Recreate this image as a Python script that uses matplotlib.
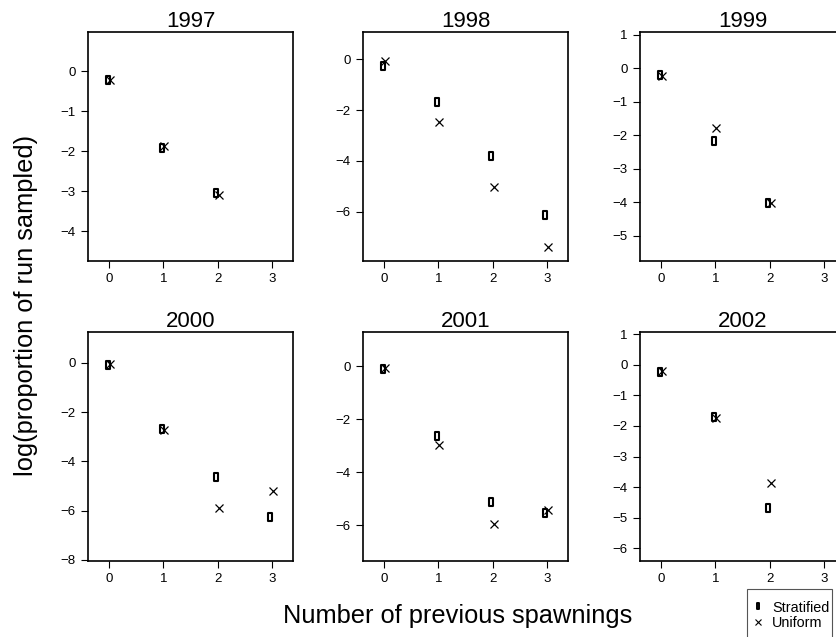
import matplotlib
matplotlib.use("Agg")
import matplotlib.pyplot as plt
from matplotlib.path import Path
from matplotlib.lines import Line2D
from matplotlib.patches import Rectangle
import numpy as np

plt.rcParams['font.family'] = ['Liberation Sans', 'DejaVu Sans']

years = ["1997", "1998", "1999", "2000", "2001", "2002"]
spawnings = [0, 1, 2, 3]

stratified = {
    "1997": [-0.23, -1.92, -3.06, None],
    "1998": [-0.26, -1.68, -3.81, -6.13],
    "1999": [-0.19, -2.18, -4.02, None],
    "2000": [-0.09, -2.67, -4.64, -6.27],
    "2001": [-0.10, -2.63, -5.14, -5.55],
    "2002": [-0.24, -1.71, -4.68, None],
}
uniform = {
    "1997": [-0.22, -1.87, -3.11, None],
    "1998": [-0.08, -2.46, -5.04, -7.38],
    "1999": [-0.22, -1.77, -4.02, None],
    "2000": [-0.06, -2.71, -5.90, -5.22],
    "2001": [-0.05, -2.98, -5.96, -5.43],
    "2002": [-0.21, -1.74, -3.87, None],
}
ylims = {
    "1997": (-4.75, 0.98),
    "1998": (-7.94, 1.07),
    "1999": (-5.75, 1.08),
    "2000": (-8.05, 1.26),
    "2001": (-7.35, 1.29),
    "2002": (-6.41, 1.07),
}
yticks = {
    "1997": [0, -1, -2, -3, -4],
    "1998": [0, -2, -4, -6],
    "1999": [1, 0, -1, -2, -3, -4, -5],
    "2000": [0, -2, -4, -6, -8],
    "2001": [0, -2, -4, -6],
    "2002": [1, 0, -1, -2, -3, -4, -5, -6],
}

W, H = 836, 637
fig = plt.figure(figsize=(W / 100, H / 100), dpi=100)

lefts = [88, 363, 640]
tops = [32, 332]
aw, ah = 205, 229

box = Path([(-0.4, -1), (0.4, -1), (0.4, 1), (-0.4, 1), (-0.4, -1)],
           [Path.MOVETO, Path.LINETO, Path.LINETO, Path.LINETO, Path.CLOSEPOLY])

for i, yr in enumerate(years):
    r, c = divmod(i, 3)
    ax = fig.add_axes([lefts[c] / W, 1 - (tops[r] + ah) / H, aw / W, ah / H])
    xs = np.array(spawnings, dtype=float)
    s = np.array([np.nan if v is None else v for v in stratified[yr]])
    u = np.array([np.nan if v is None else v for v in uniform[yr]])
    ax.plot(xs - 0.03, s, linestyle='none', marker=box, markersize=5.5,
            markerfacecolor='none', markeredgecolor='black', markeredgewidth=1.5)
    ax.plot(xs + 0.02, u, linestyle='none', marker='x', markersize=6,
            color='black', markeredgewidth=0.9)
    ax.set_xlim(-0.39, 3.39)
    ax.set_ylim(*ylims[yr])
    ax.set_xticks(spawnings)
    ax.set_yticks(yticks[yr])
    ax.set_yticklabels([str(t).replace('-', '\u2212') for t in yticks[yr]])
    ax.tick_params(direction='out', length=5, width=0.8, labelsize=9.5, pad=4,
                   top=False, right=False)
    for sp in ax.spines.values():
        sp.set_linewidth(1.2)
    ax.set_title(yr, fontsize=16, pad=-3)

fig.text(26 / W, 1 - 305 / H, "log(proportion of run sampled)", rotation=90,
         ha='center', va='center', fontsize=18.3)
fig.text(458 / W, 1 - 623 / H, "Number of previous spawnings",
         ha='center', va='baseline', fontsize=18.3)

handles = [
    Line2D([], [], linestyle='none', marker=box, markersize=5, markerfacecolor='none',
           markeredgecolor='black', markeredgewidth=1.4),
    Line2D([], [], linestyle='none', marker='x', markersize=5, color='black',
           markeredgewidth=0.8),
]
leg = fig.legend(handles, ["Stratified", "Uniform"], loc='upper left',
                 bbox_to_anchor=(747 / W, 1 - 594 / H), fontsize=10.4,
                 frameon=False, handlelength=0.6, handletextpad=0.7,
                 borderpad=0.45, labelspacing=0.12, borderaxespad=0)
fig.patches.append(Rectangle((747 / W, -0.02), (832 - 747) / W, 0.02 + (H - 589) / H,
                             transform=fig.transFigure, fill=False,
                             edgecolor='#555555', linewidth=0.8))

fig.savefig("out.png", dpi=100)
